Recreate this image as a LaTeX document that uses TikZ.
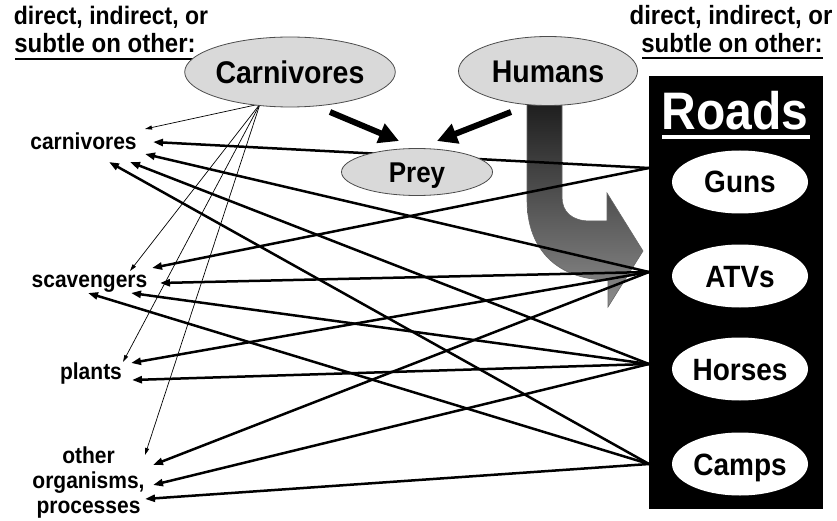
\documentclass[tikz,border=0pt]{standalone}
\usepackage{fontspec}
\usepackage{graphicx}
\setmainfont{Liberation Sans}
\usetikzlibrary{arrows.meta,shapes.geometric}
\pgfdeclarelayer{bg}
\pgfsetlayers{bg,main}
\newcommand{\tallt}[1]{\scalebox{1}[1.1]{#1}}
\begin{document}
\begin{tikzpicture}[x=1pt,y=-1pt,
  every node/.style={inner sep=0pt},
  heading/.style={font=\fontsize{24}{28}\selectfont\bfseries, anchor=base},
  lbl/.style={font=\fontsize{21}{25}\selectfont\bfseries, align=center},
  oval/.style={ellipse, draw=black!70, line width=0.8pt, fill=black!15,
    font=\fontsize{28.5}{30}\selectfont\bfseries, text height=22.4pt, text depth=0pt},
  roadoval/.style={ellipse, fill=white, minimum width=136pt, minimum height=63pt,
    font=\fontsize{28}{30}\selectfont\bfseries, text height=22pt, text depth=0pt},
  thk/.style={line width=2.5pt, -{Triangle[length=10pt,width=7pt]}},
  thn/.style={line width=0.7pt, -{Triangle[length=7pt,width=4pt]}},
  big/.style={line width=6pt, -{Triangle[length=20pt,width=20pt]}},
  uline/.style={line width=2.5pt},
]
\useasboundingbox (0,0) rectangle (837,521);

% headings
\node[heading, font=\fontsize{23}{28}\selectfont\bfseries] (hl1) at (111,25) {\tallt{direct, indirect, or}};
\node[heading] (hl2) at (105,53) {\tallt{subtle on other:}};
\draw[uline] (15,59) -- (195,59);
\node[heading] (hr1) at (731,25) {\tallt{direct, indirect, or}};
\node[heading] (hr2) at (732,53) {\tallt{subtle on other:}};
\draw[uline] (642,58) -- (823,58);

% main ovals
\node[oval, minimum width=175pt, minimum height=70pt] (carn) at (290,72) {\tallt{Carnivores}};
\node[oval, minimum width=179pt, minimum height=69pt] (hum) at (548,71) {\tallt{Humans}};
\node[oval, minimum width=151pt, minimum height=47pt, font=\fontsize{26}{30}\selectfont\bfseries, text height=20.5pt] (prey) at (417,172) {\tallt{Prey}};

% roads box
\node[fill=black, minimum width=174pt, minimum height=433pt] (roads) at (736,292.5) {};
\node[anchor=base, text=white, font=\fontsize{48}{50}\selectfont\bfseries] (roadst) at (735,130) {\tallt{Roads}};
\draw[white, line width=4pt] (662,137) -- (810,137);
\node[roadoval] (guns) at (740,182) {\tallt{Guns}};
\node[roadoval] (atvs) at (740,276) {\tallt{ATVs}};
\node[roadoval] (horses) at (740,369) {\tallt{Horses}};
\node[roadoval] (camps) at (740,464) {\tallt{Camps}};

% left labels
\node[lbl, anchor=base] (lcarn) at (83.5,150) {\tallt{carnivores}};
\node[lbl, anchor=base] (lscav) at (89.5,287) {\tallt{scavengers}};
\node[lbl, anchor=base] (lplant) at (91,379) {\tallt{plants}};
\node[lbl] (lother) at (88.5,482.6) {\tallt{other}\\\tallt{organisms,}\\\tallt{processes}};

% ports
\coordinate (gP) at (649,168);
\coordinate (aP) at (649,272);
\coordinate (hP) at (649,364);
\coordinate (kP) at (649,464);
\coordinate (cP) at (260,104);
% tips
\coordinate (cT) at (145,129);
\coordinate (cG) at (153,142);
\coordinate (cA) at (145,154);
\coordinate (cH) at (130,162);
\coordinate (cC) at (109,162);
\coordinate (sT) at (130,271);
\coordinate (sG) at (152,268);
\coordinate (sA) at (160,283);
\coordinate (sH) at (131,293);
\coordinate (sC) at (88,293);
\coordinate (pT) at (123,362);
\coordinate (pA) at (131,363);
\coordinate (pH) at (132,380);
\coordinate (oT) at (145,455);
\coordinate (oA) at (153,465);
\coordinate (oH) at (153,485);
\coordinate (oC) at (145,499);
% big arrow ends
\coordinate (cbS) at (330,112);
\coordinate (cbE) at (399,141);
\coordinate (hbS) at (511,112);
\coordinate (hbE) at (437,141);

\draw[big] (cbS) -- (cbE);
\draw[big] (hbS) -- (hbE);

\begin{pgfonlayer}{bg}
  % curved gray arrow from Humans to Roads
  \path[draw=black!60, line width=0.6pt, top color=black!90, bottom color=black!45]
    (527,95) -- (527,200) .. controls (527,250) and (558,280) .. (608,280)
    -- (608,307) -- (643,251) -- (607,193) -- (607,221) -- (590,221)
    .. controls (572,221) and (562,212) .. (562,197) -- (562,95) -- cycle;
  % thin arrows from Carnivores
  \draw[thn] (cP) -- (cT);
  \draw[thn] (cP) -- (sT);
  \draw[thn] (cP) -- (pT);
  \draw[thn] (cP) -- (oT);
  % Guns
  \draw[thk] (gP) -- (cG);
  \draw[thk] (gP) -- (sG);
  % ATVs
  \draw[thk] (aP) -- (cA);
  \draw[thk] (aP) -- (sA);
  \draw[thk] (aP) -- (pA);
  \draw[thk] (aP) -- (oA);
  % Horses
  \draw[thk] (hP) -- (cH);
  \draw[thk] (hP) -- (sH);
  \draw[thk] (hP) -- (pH);
  \draw[thk] (hP) -- (oH);
  % Camps
  \draw[thk] (kP) -- (cC);
  \draw[thk] (kP) -- (sC);
  \draw[thk] (kP) -- (oC);
\end{pgfonlayer}
\end{tikzpicture}
\end{document}
